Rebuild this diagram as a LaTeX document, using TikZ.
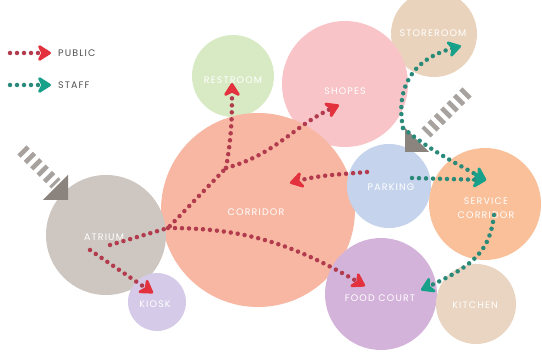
\documentclass[tikz,border=0pt]{standalone}
\usepackage{fontspec}
\setmainfont{Poppins}
\newfontfamily\labfont[LetterSpace=12]{Poppins}
\usetikzlibrary{arrows.meta}
\definecolor{corrc}{HTML}{F7B7A2}
\definecolor{shopc}{HTML}{F8C4C8}
\definecolor{parkc}{HTML}{C5D3EC}
\definecolor{servc}{HTML}{F9C09A}
\definecolor{foodc}{HTML}{D4B3DA}
\definecolor{kitc}{HTML}{E9D5C1}
\definecolor{storc}{HTML}{EAD3BC}
\definecolor{restc}{HTML}{D8EAC4}
\definecolor{atrc}{HTML}{CEC6C0}
\definecolor{kioc}{HTML}{D5CBE8}
\definecolor{pubhead}{HTML}{E3323D}
\definecolor{pubdot}{HTML}{B23C4E}
\definecolor{staffhead}{HTML}{17A08A}
\definecolor{staffdot}{HTML}{2A8A7A}
\definecolor{entc}{HTML}{A7A29E}
\definecolor{enthead}{HTML}{8A837E}
\definecolor{legtext}{HTML}{505050}
\tikzset{
  room/.style={circle, inner sep=0pt, draw=none},
  lbl/.style={text=white, font=\labfont\fontsize{9.5}{14}\selectfont, align=center, inner sep=0pt},
  legtxt/.style={text=legtext, font=\labfont\fontsize{9.5}{12}\selectfont, anchor=west, inner sep=0pt},
  dotline/.style={line width=4.5pt, line cap=round, dash pattern=on 0pt off 7pt},
  pub/.style={dotline, draw=pubdot, -{Stealth[length=16pt,width=20pt,inset=5pt,round,color=pubhead,line width=3.5pt]}},
  staff/.style={dotline, draw=staffdot, -{Stealth[length=16pt,width=20pt,inset=5pt,round,color=staffhead,line width=3.5pt]}},
  publink/.style={dotline, draw=pubdot},
  stripes/.style={draw=entc, line width=13pt, dash pattern=on 4.5pt off 4.5pt},
  enthd/.style={fill=enthead, draw=none}
}
\begin{document}
\begin{tikzpicture}[x=1pt,y=-1pt]
\useasboundingbox (0,0) rectangle (542,353);
\clip (0,0) rectangle (542,353);
\fill[white] (0,0) rectangle (542,353);
% rooms
\node[room, fill=storc, minimum size=86pt] (storeroom) at (434,34) {};
\node[room, fill=shopc, minimum size=126pt] (shopes) at (345,84) {};
\node[room, fill=restc, minimum size=82pt] (restroom) at (233,76) {};
\node[room, fill=corrc, minimum size=194pt] (corridor) at (258,210) {};
\node[room, fill=atrc, minimum size=120pt] (atrium) at (106,235) {};
\node[room, fill=kioc, minimum size=58pt] (kiosk) at (157,302) {};
\node[room, fill=parkc, minimum size=84pt] (parking) at (389,186) {};
\node[room, fill=servc, minimum size=112pt] (service) at (485,204) {};
\node[room, fill=foodc, minimum size=112pt] (food) at (381,294) {};
\node[room, fill=kitc, minimum size=80pt] (kitchen) at (476,304) {};
% labels
\node[lbl] (tstore) at (433,33) {STOREROOM};
\node[lbl] (tshop) at (345,91) {SHOPES};
\node[lbl] (trest) at (233,80) {RESTROOM};
\node[lbl] (tcorr) at (256,212) {CORRIDOR};
\node[lbl] (tatr) at (104,237) {ATRIUM};
\node[lbl] (tkio) at (155,304) {KIOSK};
\node[lbl] (tpark) at (391,187) {PARKING};
\node[lbl] (tserv) at (486,208) {SERVICE\\CORRIDOR};
\node[lbl] (tfood) at (380,298) {FOOD COURT};
\node[lbl] (tkit) at (475,305) {KITCHEN};
% entrances
\coordinate (e1a) at (22,150);
\coordinate (e1b) at (56,184);
\draw[stripes] (e1a) -- (e1b);
\fill[enthd] (68,175) -- (68,200) -- (43,200) -- cycle;
\coordinate (e2a) at (467,92);
\coordinate (e2b) at (426,133);
\draw[stripes] (e2a) -- (e2b);
\fill[enthd] (405,128) -- (405,152) -- (429,152) -- cycle;
% public paths
\coordinate (a0) at (110,245);
\coordinate (j1) at (168,228);
\coordinate (j2) at (226,168);
\coordinate (prest) at (232,83);
\coordinate (pshop) at (339,105);
\coordinate (pfood) at (365,286);
\coordinate (pk0) at (90,250);
\coordinate (pkio) at (153,293);
\coordinate (pp0) at (367,172);
\coordinate (pcorr) at (290,183);
\draw[publink] (a0) -- (j1) -- (j2);
\draw[pub] (j2) to[out=80,in=-90] (prest);
\draw[pub] (j2) to[out=15,in=205] (pshop);
\draw[pub] (j1) to[out=0,in=150] (pfood);
\draw[pub] (pk0) -- (pkio);
\draw[pub] (pp0) to[out=185,in=15] (pcorr);
% staff paths
\coordinate (s0) at (403,128);
\coordinate (sstore) at (461,46);
\coordinate (sserv) at (486,180);
\coordinate (sp0) at (412,178);
\coordinate (sc0) at (494,215);
\coordinate (sfood) at (421,290);
\draw[staff] (s0) .. controls (396,90) and (410,60) .. (sstore);
\draw[staff] (s0) .. controls (430,150) and (450,160) .. (sserv);
\draw[staff] (sp0) -- (sserv);
\draw[staff] (sc0) .. controls (490,250) and (475,265) .. (sfood);
% legend
\coordinate (lp0) at (10,53);
\coordinate (lp1) at (51,53);
\coordinate (ls0) at (10,85);
\coordinate (ls1) at (51,85);
\draw[pub] (lp0) -- (lp1);
\draw[staff] (ls0) -- (ls1);
\node[legtxt] (tpub) at (58,53) {PUBLIC};
\node[legtxt] (tstaff) at (58,85) {STAFF};
\end{tikzpicture}
\end{document}
